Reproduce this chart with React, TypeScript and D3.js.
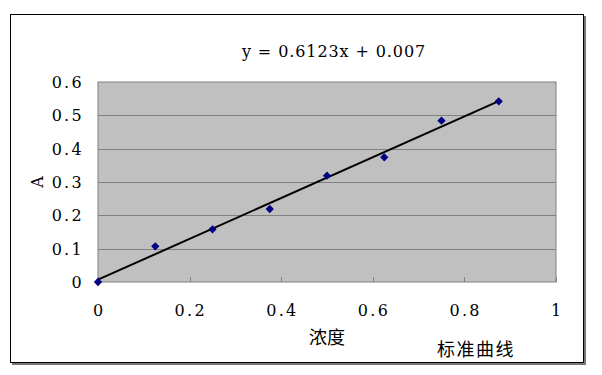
import React, { useRef, useEffect } from "react";
import * as d3 from "d3";

const concentrations = [0, 0.125, 0.25, 0.375, 0.5, 0.625, 0.75, 0.875];
const absorbance = [0, 0.107, 0.158, 0.219, 0.319, 0.374, 0.484, 0.542];
const xTicks = [0, 0.2, 0.4, 0.6, 0.8, 1];
const yTicks = [0, 0.1, 0.2, 0.3, 0.4, 0.5, 0.6];
const slope = 0.6123;
const intercept = 0.007;

export default function App() {
  const ref = useRef<SVGSVGElement>(null);

  useEffect(() => {
    const svg = d3.select(ref.current);
    svg.selectAll("*").remove();

    const left = 98;
    const right = 556;
    const top = 82;
    const bottom = 282;
    const font = "'DejaVu Serif', 'Liberation Serif', serif";
    const cjk = "'Noto Sans CJK SC', sans-serif";

    const x = d3.scaleLinear().domain([0, 1]).range([left, right]);
    const y = d3.scaleLinear().domain([0, 0.6]).range([bottom, top]);

    // outer frame with shadow
    svg.append("rect").attr("x", 12).attr("y", 16).attr("width", 574).attr("height", 349).attr("fill", "#777");
    svg.append("rect").attr("x", 10.5).attr("y", 14.5).attr("width", 573).attr("height", 348)
      .attr("fill", "white").attr("stroke", "black").attr("stroke-width", 1);

    // plot area
    svg.append("rect").attr("x", left).attr("y", top).attr("width", right - left).attr("height", bottom - top)
      .attr("fill", "#c0c0c0").attr("stroke", "#808080").attr("stroke-width", 1);

    // gridlines
    svg.append("g").selectAll("line").data(yTicks.slice(1, -1)).enter().append("line")
      .attr("x1", left).attr("x2", right)
      .attr("y1", (d) => Math.round(y(d)) + 0.5).attr("y2", (d) => Math.round(y(d)) + 0.5)
      .attr("stroke", "#808080");

    // bottom axis ticks (pointing inward)
    svg.append("g").selectAll("line").data(xTicks).enter().append("line")
      .attr("x1", (d) => Math.round(x(d)) + 0.5).attr("x2", (d) => Math.round(x(d)) + 0.5)
      .attr("y1", bottom).attr("y2", bottom - 5)
      .attr("stroke", "#808080");

    // tick labels
    svg.append("g").selectAll("text").data(yTicks).enter().append("text")
      .attr("x", 84).attr("y", (d) => y(d) + 6)
      .attr("text-anchor", "end")
      .attr("font-family", font).attr("font-size", 16).attr("letter-spacing", 2.3)
      .text((d) => (d === 0 ? "0" : d.toFixed(1)));

    svg.append("g").selectAll("text").data(xTicks).enter().append("text")
      .attr("x", (d) => x(d) + 1.2).attr("y", 316)
      .attr("text-anchor", "middle")
      .attr("font-family", font).attr("font-size", 16).attr("letter-spacing", 2.3)
      .text((d) => (d === 0 || d === 1 ? String(d) : d.toFixed(1)));

    // trendline
    const xMax = d3.max(concentrations) as number;
    svg.append("line")
      .attr("x1", x(0)).attr("y1", y(intercept))
      .attr("x2", x(xMax)).attr("y2", y(slope * xMax + intercept))
      .attr("stroke", "black").attr("stroke-width", 2);

    // points
    const pts = concentrations.map((c, i) => ({ c, a: absorbance[i] }));
    svg.append("g").selectAll("path").data(pts).enter().append("path")
      .attr("d", d3.symbol().type(d3.symbolDiamond2).size(44))
      .attr("transform", (d) => `translate(${x(d.c)},${y(d.a)})`)
      .attr("fill", "#000080");

    // equation
    svg.append("text").attr("x", 334).attr("y", 57).attr("text-anchor", "middle")
      .attr("font-family", font).attr("font-size", 16).attr("letter-spacing", 0.9)
      .attr("xml:space", "preserve")
      .text("y = 0.6123x + 0.007");

    // axis titles
    svg.append("text").attr("transform", "translate(43,182) rotate(-90)")
      .attr("text-anchor", "middle").attr("font-family", font).attr("font-size", 16)
      .text("A");
    svg.append("text").attr("x", 327).attr("y", 344).attr("text-anchor", "middle")
      .attr("font-family", cjk).attr("font-size", 18)
      .text("浓度");
    svg.append("text").attr("x", 476).attr("y", 356).attr("text-anchor", "middle")
      .attr("font-family", cjk).attr("font-size", 18).attr("letter-spacing", 1.5)
      .text("标准曲线");
  }, []);

  return (
    <svg ref={ref} width={602} height={375}
      style={{ position: "absolute", left: 0, top: 0, display: "block" }} />
  );
}
